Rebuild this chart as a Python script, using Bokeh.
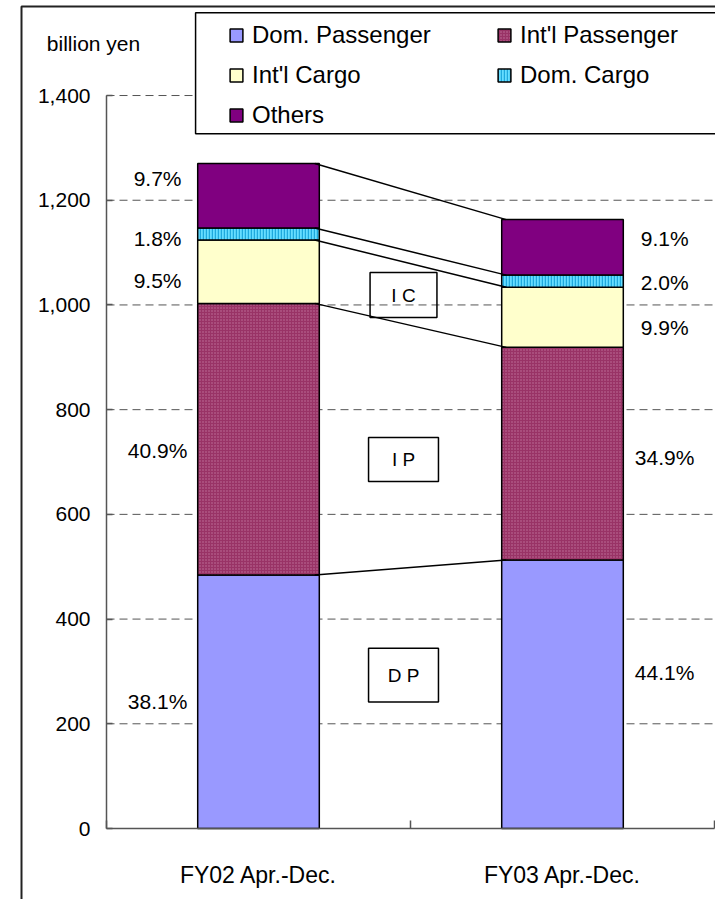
import numpy as np
from bokeh.plotting import figure
from bokeh.models import (ColumnDataSource, Range1d, FixedTicker, Legend, LegendItem,
                          Label, NumeralTickFormatter)
from bokeh.core.properties import value
from bokeh.embed import file_html
from bokeh.resources import INLINE

# ---------------- data ----------------
categories = ["FY02 Apr.-Dec.", "FY03 Apr.-Dec."]
series_names = ["Dom. Passenger", "Int'l Passenger", "Int'l Cargo", "Dom. Cargo", "Others"]
dom_passenger = [484, 513]
intl_passenger = [519, 406]
intl_cargo = [121, 115]
dom_cargo = [23, 23]
others = [123, 106]
share_fy02 = ["38.1%", "40.9%", "9.5%", "1.8%", "9.7%"]
share_fy03 = ["44.1%", "34.9%", "9.9%", "2.0%", "9.1%"]
segment_codes = ["D P", "I P", "I C"]
y_ticks = [0, 200, 400, 600, 800, 1000, 1200, 1400]
unit_label = "billion yen"

# ---------------- layout / style ----------------
colors = ["#9999FF", "#993366", "#FFFFCC", "#66DDFF", "#800080"]
hatches = [" ", "dot", " ", "vertical_line", " "]
hatch_colors = ["#9999FF", "#C0739C", "#FFFFCC", "#1FA9DD", "#800080"]
FONT = "Liberation Sans"
AX = "#555555"

share_y_fy02 = [243, 722, 1047, 1127, 1241]
share_y_fy03 = [298, 709, 957, 1043, 1127]
code_y = [293, 705, 1019]
code_h = [103, 84, 86]

x_pos = [i + 0.5 for i in range(len(categories))]
bar_w = 0.4
W, H = 715, 899

p = figure(width=W, height=H, output_backend="svg", toolbar_location=None,
           x_range=Range1d(-0.3487, 2.0033), y_range=Range1d(-135.6, 1581.5),
           min_border_left=0, min_border_right=0, min_border_top=0, min_border_bottom=0)
p.outline_line_color = None
p.background_fill_color = "white"
p.border_fill_color = "white"
p.xgrid.visible = False
p.ygrid.visible = False

# y axis (inside the frame, at x = 0)
p.yaxis.fixed_location = 0
p.yaxis.bounds = (0, max(y_ticks))
p.yaxis.ticker = FixedTicker(ticks=y_ticks)
p.yaxis.formatter = NumeralTickFormatter(format="0,0")
p.yaxis.axis_line_color = AX
p.yaxis.axis_line_width = 1.5
p.yaxis.major_tick_in = 6
p.yaxis.major_tick_out = 0
p.yaxis.major_tick_line_color = AX
p.yaxis.major_tick_line_width = 1.5
p.yaxis.minor_tick_line_color = None
p.yaxis.major_label_standoff = 16
p.yaxis.major_label_text_font = FONT
p.yaxis.major_label_text_font_size = "21px"
p.yaxis.major_label_text_color = "black"

# x axis (inside the frame, at y = 0)
p.xaxis.fixed_location = 0
p.xaxis.bounds = (0, len(categories))
p.xaxis.ticker = FixedTicker(ticks=x_pos, minor_ticks=list(range(len(categories) + 1)))
p.xaxis.major_label_overrides = dict(zip(x_pos, categories))
p.xaxis.major_tick_in = 0
p.xaxis.major_tick_out = 0
p.xaxis.minor_tick_in = 8
p.xaxis.minor_tick_out = 0
p.xaxis.minor_tick_line_color = AX
p.xaxis.minor_tick_line_width = 1.5
p.xaxis.axis_line_color = AX
p.xaxis.axis_line_width = 1.5
p.xaxis.major_label_standoff = 33
p.xaxis.major_label_text_font = FONT
p.xaxis.major_label_text_font_size = "23px"
p.xaxis.major_label_text_color = "black"

# outer chart-area border (right/bottom edges fall outside the view, as in the original)
p.quad(left=[-0.2796], right=[3.0], top=[1570], bottom=[-400],
       fill_color=None, line_color="#222222", line_width=2)

# dashed gridlines between the axis and the right edge of the plot area
grid_y = y_ticks[1:]
p.segment(x0=[0] * len(grid_y), y0=grid_y, x1=[len(categories)] * len(grid_y), y1=grid_y,
          line_color=AX, line_width=1, line_dash="8 5")

# legend box
p.quad(left=[0.293], right=[3.0], top=[1558], bottom=[1327],
       fill_color="white", line_color="black", line_width=1.5)

# bars
src = ColumnDataSource(dict(x=x_pos, dp=dom_passenger, ip=intl_passenger,
                            ic=intl_cargo, dc=dom_cargo, ot=others))
keys = ["dp", "ip", "ic", "dc", "ot"]
renderers = p.vbar_stack(keys, x="x", width=bar_w, source=src,
                         fill_color=colors, line_color="black", line_width=1.5,
                         hatch_pattern=hatches, hatch_color=hatch_colors,
                         hatch_scale=[4, 3, 4, 3, 4], hatch_weight=[1, 1.2, 1, 1.5, 1])

# connector lines between stack boundaries
stack = np.cumsum(np.array([dom_passenger, intl_passenger, intl_cargo, dom_cargo, others]), axis=0)
x0 = x_pos[0] + bar_w / 2 - 0.015
x1 = x_pos[1] - bar_w / 2 + 0.015
p.segment(x0=[x0] * len(stack), y0=list(stack[:, 0]), x1=[x1] * len(stack), y1=list(stack[:, 1]),
          line_color="black", line_width=1.5)

# share labels
share_src = ColumnDataSource(dict(
    x=[0.168] * len(share_fy02) + [1.836] * len(share_fy03),
    y=share_y_fy02 + share_y_fy03,
    t=share_fy02 + share_fy03))
p.text(x="x", y="y", text="t", source=share_src, text_align="center", text_baseline="middle",
       text_font=value(FONT), text_font_size="21px", text_color="black")

# segment code boxes
p.rect(x=[0.977] * 3, y=code_y, width=[0.23, 0.23, 0.22], height=code_h,
       fill_color=None, line_color="black", line_width=1.5)
p.text(x=[0.977] * 3, y=code_y, text=segment_codes, text_align="center", text_baseline="middle",
       text_font=value(FONT), text_font_size="19px", text_color="black")

# legend
items = [LegendItem(label=n, renderers=[r]) for n, r in zip(series_names, renderers)]
legend = Legend(items=items, location=(228, 770), orientation="horizontal", ncols=2,
                glyph_width=16, glyph_height=16, label_standoff=8, label_width=232,
                spacing=12, padding=0, margin=0, border_line_color=None,
                background_fill_alpha=0, label_text_font=FONT, label_text_font_size="24px",
                label_text_color="black")
p.add_layout(legend, "center")

# unit label
p.add_layout(Label(x=-0.0428, y=1499, text=unit_label, text_align="center", text_baseline="middle",
                   text_font=FONT, text_font_size="21px", text_color="black"))

open("out.html", "w").write(file_html(p, INLINE))
